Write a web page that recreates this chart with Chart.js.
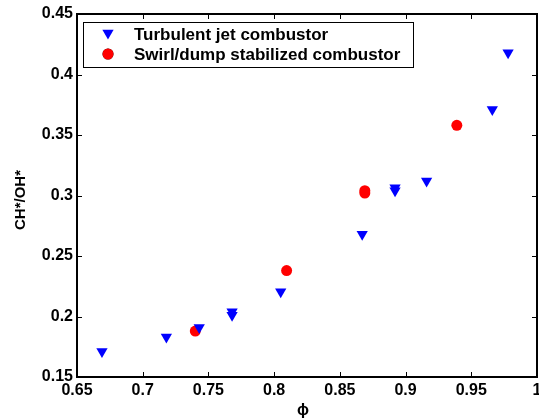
<!DOCTYPE html>
<html>
<head>
<meta charset="utf-8">
<script src="https://cdn.jsdelivr.net/npm/chart.js@4"></script>
<style>
  html, body { margin: 0; padding: 0; background: #fff; }
  #wrap { width: 539px; height: 419px; }
</style>
</head>
<body>
<div id="wrap"><canvas id="chsig"></canvas></div>
<script>
// equivalence ratio vs CH*/OH*
var jetPhi = [0.669, 0.718, 0.743, 0.768, 0.768, 0.805, 0.867, 0.892, 0.892, 0.916, 0.966, 0.978];
var jetRatio = [0.171, 0.183, 0.191, 0.204, 0.201, 0.2205, 0.268, 0.3065, 0.304, 0.312, 0.371, 0.418];
var swirlPhi = [0.740, 0.8095, 0.869, 0.869, 0.939];
var swirlRatio = [0.188, 0.238, 0.302, 0.304, 0.358];
var xTicks = [0.65, 0.7, 0.75, 0.8, 0.85, 0.9, 0.95, 1];
var yTicks = [0.15, 0.2, 0.25, 0.3, 0.35, 0.4, 0.45];
var seriesNames = ['Turbulent jet combustor', 'Swirl/dump stabilized combustor'];
var xTitle = '\u03d5';
var yTitle = 'CH*/OH*';

var FAM = '"Liberation Sans", Arial, sans-serif';
var FONT = 'bold 16px ' + FAM;

function pts(xs, ys){
	var out = [];
	for (var i = 0; i < xs.length; i++) out.push({x: xs[i], y: ys[i]});
	return out;
}

function fmt(v){
	return (Math.round(v * 100) / 100).toString();
}

// frame, inward ticks on all four sides, axis titles
var framePlugin = {
	id: 'frame',
	afterDatasetsDraw: function(chart){
		var c = chart.ctx, a = chart.chartArea;
		var xs = chart.scales.x, ys = chart.scales.y;
		c.save();
		c.strokeStyle = '#000';
		c.lineWidth = 1;
		c.beginPath();
		for (var i = 1; i < xTicks.length - 1; i++) {
			var px = Math.round(xs.getPixelForValue(xTicks[i])) + 0.5;
			c.moveTo(px, a.bottom); c.lineTo(px, a.bottom - 5);
			c.moveTo(px, a.top); c.lineTo(px, a.top + 5);
		}
		for (var j = 1; j < yTicks.length - 1; j++) {
			var py = Math.round(ys.getPixelForValue(yTicks[j])) + 0.5;
			c.moveTo(a.left, py); c.lineTo(a.left + 5, py);
			c.moveTo(a.right, py); c.lineTo(a.right - 5, py);
		}
		c.stroke();
		c.lineWidth = 2;
		c.strokeRect(a.left, a.top, a.right - a.left, a.bottom - a.top);

		c.fillStyle = '#000';
		c.textAlign = 'center';
		c.textBaseline = 'middle';
		c.font = FONT;
		c.fillText(xTitle, (a.left + a.right) / 2 - 4, 411);
		c.font = 'bold 15px ' + FAM;
		c.translate(21, 200);
		c.rotate(-Math.PI / 2);
		c.fillText(yTitle, 0, 0);
		c.restore();
	}
};

// boxed legend in the top-left corner
var legendPlugin = {
	id: 'boxlegend',
	afterDraw: function(chart){
		var c = chart.ctx;
		var x0 = 83, y0 = 22, w = 330, h = 45;
		c.save();
		c.fillStyle = '#fff';
		c.fillRect(x0, y0, w, h);
		c.strokeStyle = '#000';
		c.lineWidth = 1;
		c.strokeRect(x0 + 0.5, y0 + 0.5, w, h);
		chart.data.datasets.forEach(function(ds, k){
			var cy = y0 + 12 + k * 20;
			Chart.helpers.drawPoint(c, {
				pointStyle: ds.pointStyle,
				rotation: ds.rotation || 0,
				radius: ds.pointRadius,
				borderWidth: 0
			}, 108, cy + (ds.pointStyle === 'triangle' ? -1 : 0));
			c.fillStyle = ds.backgroundColor;
			c.fill();
			c.fillStyle = '#000';
			c.font = 'bold 17px ' + FAM;
			c.textAlign = 'left';
			c.textBaseline = 'middle';
			c.fillText(ds.label, 134, cy + 1);
		});
		c.restore();
	}
};

new Chart(document.getElementById('chsig'), {
	type: 'scatter',
	data: {
		datasets: [{
			label: seriesNames[0],
			data: pts(jetPhi, jetRatio),
			pointStyle: 'triangle',
			rotation: 180,
			pointRadius: 6.5,
			backgroundColor: '#0000ff',
			borderColor: '#0000ff',
			borderWidth: 0
		}, {
			label: seriesNames[1],
			data: pts(swirlPhi, swirlRatio),
			pointStyle: 'circle',
			pointRadius: 5.5,
			backgroundColor: '#ff0000',
			borderColor: '#ff0000',
			borderWidth: 0
		}]
	},
	options: {
		responsive: true,
		maintainAspectRatio: false,
		animation: false,
		layout: { autoPadding: false, padding: { top: 14, right: 2, left: 0, bottom: 0 } },
		plugins: {
			legend: { display: false },
			tooltip: { enabled: false }
		},
		scales: {
			x: {
				type: 'linear',
				min: 0.65, max: 1,
				afterBuildTicks: function(s){ s.ticks = xTicks.map(function(v){ return {value: v}; }); },
				afterFit: function(s){ s.height = 42; s.paddingLeft = 0; s.paddingRight = 0; },
				grid: { display: false, drawTicks: false },
				border: { display: false },
				ticks: {
					color: '#000',
					font: { family: FAM, size: 16, weight: 'bold' },
					padding: 4,
					maxRotation: 0,
					autoSkip: false,
					callback: function(v){ return fmt(v); }
				}
			},
			y: {
				type: 'linear',
				min: 0.15, max: 0.45,
				afterBuildTicks: function(s){ s.ticks = yTicks.map(function(v){ return {value: v}; }); },
				afterFit: function(s){ s.width = 77; s.paddingTop = 0; s.paddingBottom = 0; },
				grid: { display: false, drawTicks: false },
				border: { display: false },
				ticks: {
					color: '#000',
					font: { family: FAM, size: 16, weight: 'bold' },
					padding: 4,
					autoSkip: false,
					callback: function(v){ return fmt(v); }
				}
			}
		}
	},
	plugins: [framePlugin, legendPlugin]
});
</script>
</body>
</html>
